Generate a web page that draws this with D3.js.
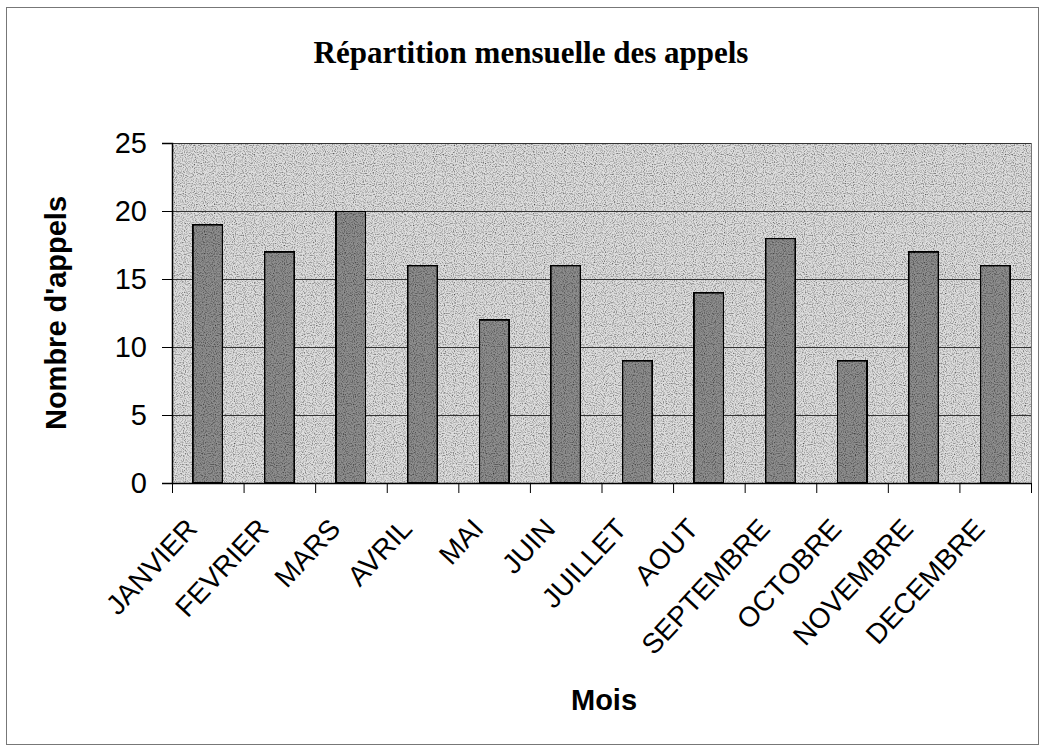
<!DOCTYPE html>
<html>
<head>
<meta charset="utf-8">
<script src="https://cdn.jsdelivr.net/npm/d3@7"></script>
<style>
  body { margin: 0; background: #fff; }
  svg { display: block; }
</style>
</head>
<body>
<svg id="chart" width="1045" height="751"></svg>
<script>
const months = ['JANVIER', 'FEVRIER', 'MARS', 'AVRIL', 'MAI', 'JUIN', 'JUILLET',
  'AOUT', 'SEPTEMBRE', 'OCTOBRE', 'NOVEMBRE', 'DECEMBRE'];
const calls = [19, 17, 20, 16, 12, 16, 9, 14, 18, 9, 17, 16];
const yTicks = [0, 5, 10, 15, 20, 25];

const title = 'Répartition mensuelle des appels';
const xTitle = 'Mois';
const yTitle = "Nombre d'appels";

const svg = d3.select('#chart');
const plot = { left: 172, top: 143, right: 1031, bottom: 483 };
const sans = 'Arial, "Liberation Sans", sans-serif';

// outer frame
svg.append('rect')
  .attr('x', 6.5).attr('y', 7.5)
  .attr('width', 1045 - 13).attr('height', 751 - 14)
  .attr('fill', 'none')
  .attr('stroke', '#777')
  .attr('stroke-width', 1);

// stipple-ish texture
const defs = svg.append('defs');
const f = defs.append('filter').attr('id', 'grain')
  .attr('x', 0).attr('y', 0).attr('width', 1).attr('height', 1);
f.append('feTurbulence').attr('type', 'fractalNoise')
  .attr('baseFrequency', 0.9).attr('numOctaves', 1).attr('seed', 3).attr('result', 'noise');
f.append('feColorMatrix').attr('in', 'noise').attr('type', 'matrix')
  .attr('values', '0 0 0 0 0  0 0 0 0 0  0 0 0 0 0  0 0 0 -2.2 1.25')
  .attr('result', 'dots');
f.append('feComposite').attr('in', 'dots').attr('in2', 'SourceGraphic').attr('operator', 'in').attr('result', 'dotsIn');
f.append('feMerge').call(m => {
  m.append('feMergeNode').attr('in', 'SourceGraphic');
  m.append('feMergeNode').attr('in', 'dotsIn');
});

const x = d3.scaleBand()
  .domain(months)
  .range([plot.left, plot.right])
  .paddingInner(0.58)
  .paddingOuter(0.29);

const xBand = d3.scaleBand()
  .domain(months)
  .range([plot.left, plot.right]);

const y = d3.scaleLinear()
  .domain([0, 25])
  .range([plot.bottom, plot.top]);

// plot background
svg.append('rect')
  .attr('x', plot.left).attr('y', plot.top)
  .attr('width', plot.right - plot.left)
  .attr('height', plot.bottom - plot.top)
  .attr('fill', '#dedede')
  .attr('filter', 'url(#grain)');

// grid lines
svg.append('g')
  .selectAll('line')
  .data(yTicks.filter(d => d > 0))
  .join('line')
  .attr('x1', plot.left).attr('x2', plot.right)
  .attr('y1', d => y(d) + 0.5).attr('y2', d => y(d) + 0.5)
  .attr('stroke', '#333')
  .attr('stroke-width', 1);

// right border
svg.append('line')
  .attr('x1', plot.right + 0.5).attr('x2', plot.right + 0.5)
  .attr('y1', plot.top).attr('y2', plot.bottom)
  .attr('stroke', '#777');

// bars
svg.append('g')
  .selectAll('rect')
  .data(calls)
  .join('rect')
  .attr('x', (d, i) => x(months[i]))
  .attr('y', d => y(d))
  .attr('width', x.bandwidth())
  .attr('height', d => plot.bottom - y(d))
  .attr('fill', '#8e8e8e')
  .attr('stroke', '#000')
  .attr('stroke-width', 2)
  .attr('filter', 'url(#grain)');

// y axis
const yAxis = svg.append('g')
  .attr('transform', `translate(${plot.left},0)`)
  .call(d3.axisLeft(y).tickValues(yTicks).tickSize(10).tickPadding(15));
yAxis.select('.domain').attr('stroke', '#000').attr('stroke-width', 1.5);
yAxis.selectAll('.tick line').attr('stroke', '#000');
yAxis.selectAll('.tick text')
  .attr('font-family', sans)
  .attr('font-size', 29)
  .attr('fill', '#000');

// x axis
const xAxis = svg.append('g')
  .attr('transform', `translate(0,${plot.bottom})`)
  .call(d3.axisBottom(xBand).tickSize(0).tickFormat(''));
xAxis.select('.domain').attr('stroke', '#000').attr('stroke-width', 1.5);

// x ticks at band boundaries
svg.append('g')
  .selectAll('line')
  .data(months.concat(['end']))
  .join('line')
  .attr('x1', (d, i) => (i < months.length ? xBand(d) : plot.right) + 0.5)
  .attr('x2', (d, i) => (i < months.length ? xBand(d) : plot.right) + 0.5)
  .attr('y1', plot.bottom).attr('y2', plot.bottom + 10)
  .attr('stroke', '#000');

// x labels
svg.append('g')
  .selectAll('text')
  .data(months)
  .join('text')
  .attr('transform', d => `translate(${xBand(d) + xBand.bandwidth() / 2 - 9},${plot.bottom + 47}) rotate(-47)`)
  .attr('text-anchor', 'end')
  .attr('font-family', sans)
  .attr('font-size', 28)
  .attr('fill', '#000')
  .text(d => d);

// titles
svg.append('text')
  .attr('x', 531).attr('y', 63)
  .attr('text-anchor', 'middle')
  .attr('font-family', '"Times New Roman", "Liberation Serif", serif')
  .attr('font-weight', 'bold')
  .attr('font-size', 31)
  .text(title);

svg.append('text')
  .attr('x', 604).attr('y', 710)
  .attr('text-anchor', 'middle')
  .attr('font-family', sans)
  .attr('font-weight', 'bold')
  .attr('font-size', 29)
  .text(xTitle);

svg.append('text')
  .attr('transform', `translate(66,${(plot.top + plot.bottom) / 2}) rotate(-90)`)
  .attr('text-anchor', 'middle')
  .attr('font-family', sans)
  .attr('font-weight', 'bold')
  .attr('font-size', 29)
  .text(yTitle);
</script>
</body>
</html>
